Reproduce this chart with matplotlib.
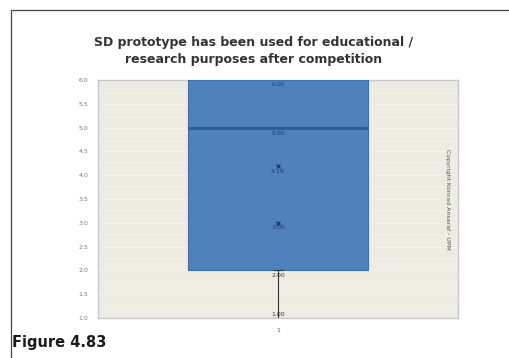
import numpy as np
import matplotlib.pyplot as plt

# box plot statistics
categories = ["1"]
q1 = [2.0]
median = [5.0]
q3 = [6.0]
whisker_low = [1.0]
whisker_high = [6.0]
mean = [4.19]
extra_point = [3.00]
y_ticks = np.arange(1.0, 6.01, 0.5)

title = "SD prototype has been used for educational /\nresearch purposes after competition"

fig = plt.figure(figsize=(5.09, 3.58), dpi=100)
fig.patch.set_facecolor("white")

# outer frame (only left and top are visible in the crop)
frame = plt.Rectangle((11 / 509, -0.1), 1.2, 1.1 - 10 / 358,
                      transform=fig.transFigure, fill=False,
                      edgecolor="#444444", linewidth=0.9)
fig.add_artist(frame)

ax = fig.add_axes([98 / 509, 1 - 318 / 358, (458 - 98) / 509, (318 - 80) / 358])
ax.set_facecolor("#eeebe3")
x = np.arange(len(categories))

ax.bar(x, np.array(q3) - np.array(q1), bottom=q1, width=0.5,
       color="#4f81bd", edgecolor="#3f6fa8", linewidth=0.8, zorder=3)
ax.hlines(median, x - 0.25, x + 0.25, color="#2f5f97", linewidth=2.2, zorder=4)
ax.vlines(x, whisker_low, q1, color="#333333", linewidth=0.8, zorder=3)
ax.hlines([whisker_low, q1], x - 0.015, x + 0.015, color="#333333", linewidth=0.8, zorder=3)
ax.plot(x, mean, marker="x", color="#1f3d70", markersize=3, linestyle="none", zorder=5)
ax.plot(x, extra_point, marker="x", color="#1f3d70", markersize=3, linestyle="none", zorder=5)

lab_kw = dict(ha="center", va="top", fontsize=4.5, color="#1f3d70", zorder=6)
for i in range(len(categories)):
    ax.text(x[i], q3[i] - 0.04, f"{q3[i]:.2f}", **lab_kw)
    ax.text(x[i], median[i] - 0.08, f"{median[i]:.2f}", **lab_kw)
    ax.text(x[i], mean[i] - 0.05, f"{mean[i]:.2f}", **lab_kw)
    ax.text(x[i], extra_point[i] - 0.05, f"{extra_point[i]:.2f}", **lab_kw)
    ax.text(x[i], q1[i] - 0.06, f"{q1[i]:.2f}", ha="center", va="top",
            fontsize=4.5, color="#333333", zorder=6)
    ax.text(x[i], whisker_low[i] + 0.02, f"{whisker_low[i]:.2f}", ha="center", va="bottom",
            fontsize=4.5, color="#333333", zorder=6)

ax.set_xlim(-0.5, 0.5)
ax.set_ylim(1.0, 6.0)
ax.set_yticks(y_ticks)
ax.set_yticklabels([f"{t:.1f}" for t in y_ticks], fontsize=4.5, color="#777777")
ax.set_xticks(x)
ax.set_xticklabels(categories, fontsize=4.5, color="#555555")
ax.tick_params(length=0, pad=7)
for s in ax.spines.values():
    s.set_color("#c4c8d0")
    s.set_linewidth(1.0)

# faint stripes in the plot area
for yy in np.arange(1.0, 6.0, 0.25):
    ax.axhline(yy, color="#f4f2ec", linewidth=0.6, zorder=1)

ax.text(0.97, 0.5, "Copyright Konrad Ansaraf - UPM", transform=ax.transAxes,
        rotation=270, ha="center", va="center", fontsize=4.5, color="#555555")

fig.text(254 / 509, 1 - 51 / 358, title, ha="center", va="center",
         fontsize=9, fontweight="bold", color="#333333", linespacing=1.4)

fig.text(12 / 509, 1 - 342 / 358, "Figure 4.83", ha="left", va="center",
         fontsize=10.5, fontweight="bold", color="#1a1a1a", family="DejaVu Sans")

fig.savefig("out.png", dpi=100)
